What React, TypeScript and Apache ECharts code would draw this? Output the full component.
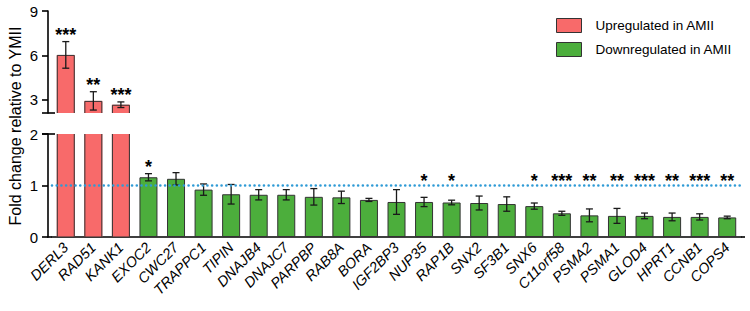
import React, { useEffect, useRef } from "react";
import * as echarts from "echarts";

const genes = [
  "DERL3", "RAD51", "KANK1", "EXOC2", "CWC27", "TRAPPC1", "TIPIN", "DNAJB4", "DNAJC7",
  "PARPBP", "RAB8A", "BORA", "IGF2BP3", "NUP35", "RAP1B", "SNX2", "SF3B1", "SNX6",
  "C11orf58", "PSMA2", "PSMA1", "GLOD4", "HPRT1", "CCNB1", "COPS4",
];
const upMeans = [6.03, 2.92, 2.66];
const upErrors = [0.9, 0.62, 0.19];
const downMeans = [
  1.16, 1.13, 0.92, 0.83, 0.82, 0.82, 0.78, 0.77, 0.72, 0.68, 0.68, 0.67,
  0.66, 0.64, 0.6, 0.46, 0.42, 0.41, 0.41, 0.39, 0.39, 0.38,
];
const downErrors = [
  0.07, 0.12, 0.11, 0.19, 0.1, 0.1, 0.16, 0.12, 0.03, 0.24, 0.09, 0.045,
  0.135, 0.14, 0.06, 0.04, 0.125, 0.145, 0.055, 0.075, 0.06, 0.025,
];
const significance = [
  "***", "**", "***", "*", "", "", "", "", "", "", "", "", "", "*", "*", "", "", "*",
  "***", "**", "**", "***", "**", "***", "**",
];
const upperTicks = [3, 6, 9];
const lowerTicks = [0, 1, 2];
const upperMin = 2.1;
const upperMax = 9;
const lowerMax = 2;
const referenceLevel = 1;

const FONT = "'Liberation Sans', Arial, Helvetica, sans-serif";
const RED = "#F86A6A";
const GREEN = "#4CAE3C";
const EDGE = "#333";
const UP_NAME = "Upregulated in AMII";
const DOWN_NAME = "Downregulated in AMII";
const BAR_W = 18;

export default function App() {
  const ref = useRef<HTMLDivElement>(null);
  useEffect(() => {
    if (!ref.current) return;
    const chart = echarts.init(ref.current, null, { renderer: "svg" });
    const nUp = upMeans.length;
    const upBars = genes.map((_, i) => (i < nUp ? upMeans[i] : "-"));
    const downBars = genes.map((_, i) => (i >= nUp ? downMeans[i - nUp] : "-"));
    const upErr = upMeans.map((m, i) => [i, m, upErrors[i]]);
    const downErr = downMeans.map((m, i) => [i + nUp, m, downErrors[i]]);
    const upStars = upMeans.map((m, i) => [i, m + upErrors[i], significance[i]]);
    const downStars = downMeans
      .map((m, i) => [i + nUp, Math.max(m + downErrors[i], 0.95), significance[i + nUp]])
      .filter((d) => d[2] !== "");
    const upEdgeData = upMeans.map((m, i) => [i, m]);

    const errRender = (params: any, api: any) => {
      const i = api.value(0);
      const m = api.value(1);
      const e = api.value(2);
      const t = api.coord([i, m + e]);
      const b = api.coord([i, m - e]);
      const hw = 3.5;
      const st = { stroke: "#1a1a1a", lineWidth: 1.3 };
      return {
        type: "group",
        children: [
          { type: "line", shape: { x1: t[0], y1: t[1], x2: b[0], y2: b[1] }, style: st },
          { type: "line", shape: { x1: t[0] - hw, y1: t[1], x2: t[0] + hw, y2: t[1] }, style: st },
          { type: "line", shape: { x1: b[0] - hw, y1: b[1], x2: b[0] + hw, y2: b[1] }, style: st },
        ],
      };
    };
    const upperEdgeRender = (params: any, api: any) => {
      const i = api.value(0);
      const m = api.value(1);
      const t = api.coord([i, m]);
      const b = api.coord([i, upperMin]);
      const l = t[0] - BAR_W / 2 + 0.5;
      const r = t[0] + BAR_W / 2 - 0.5;
      return {
        type: "polyline",
        shape: { points: [[l, b[1]], [l, t[1] + 0.5], [r, t[1] + 0.5], [r, b[1]]] },
        style: { stroke: EDGE, lineWidth: 1, fill: "none" },
      };
    };
    const lowerEdgeRender = (params: any, api: any) => {
      const i = api.value(0);
      const t = api.coord([i, lowerMax]);
      const b = api.coord([i, 0]);
      const l = t[0] - BAR_W / 2 + 0.5;
      const r = t[0] + BAR_W / 2 - 0.5;
      return {
        type: "polyline",
        shape: { points: [[l, t[1]], [l, b[1]], [r, b[1]], [r, t[1]]] },
        style: { stroke: EDGE, lineWidth: 1, fill: "none" },
      };
    };
    const starRender = (params: any, api: any) => {
      const i = api.value(0);
      const y = api.value(1);
      const idx = params.dataIndex;
      const p = api.coord([i, y]);
      const text = params.seriesName === "upStars" ? upStars[idx][2] : downStars[idx][2];
      return {
        type: "text",
        x: p[0],
        y: p[1] - 7,
        style: {
          text,
          fill: "#000",
          fontSize: 18,
          fontWeight: "bold",
          fontFamily: FONT,
          align: "center",
          verticalAlign: "middle",
        },
      };
    };

    const axisLineStyle = { color: "#000", width: 1.6 };
    const gridLeft = 52;
    const gridRight = 9;

    chart.setOption({
      animation: false,
      textStyle: { fontFamily: FONT },
      legend: {
        data: [
          { name: UP_NAME, itemStyle: { color: RED, borderColor: EDGE, borderWidth: 1 } },
          { name: DOWN_NAME, itemStyle: { color: GREEN, borderColor: EDGE, borderWidth: 1 } },
        ],
        orient: "vertical",
        left: 556,
        top: 18,
        padding: 0,
        itemWidth: 25,
        itemHeight: 14,
        itemGap: 9,
        icon: "rect",
        textStyle: { fontSize: 13.5, color: "#000", fontFamily: FONT, padding: [0, 0, 0, 9] },
      },
      grid: [
        { left: gridLeft, right: gridRight, top: 11, height: 102 },
        { left: gridLeft, right: gridRight, top: 134, height: 103 },
      ],
      xAxis: [
        { type: "category", gridIndex: 0, data: genes, show: false },
        {
          type: "category",
          gridIndex: 1,
          data: genes,
          axisLine: { lineStyle: axisLineStyle },
          axisTick: { alignWithLabel: true, length: 6, lineStyle: { color: "#000", width: 1.6 } },
          axisLabel: {
            rotate: 45,
            interval: 0,
            margin: 8,
            fontSize: 14.5,
            fontStyle: "italic",
            color: "#000",
            fontFamily: FONT,
          },
        },
      ],
      yAxis: [
        {
          type: "value",
          gridIndex: 0,
          min: upperMin,
          max: upperMax,
          offset: 4,
          splitLine: { show: false },
          axisLine: { show: true, lineStyle: axisLineStyle },
          axisTick: { show: true, length: 6, customValues: upperTicks, lineStyle: { color: "#000", width: 1.6 } },
          axisLabel: { customValues: upperTicks, fontSize: 15, color: "#000", margin: 10, fontFamily: FONT },
        },
        {
          type: "value",
          gridIndex: 1,
          min: 0,
          max: lowerMax,
          interval: 1,
          offset: 4,
          splitLine: { show: false },
          axisLine: { show: true, lineStyle: axisLineStyle },
          axisTick: { show: true, length: 6, customValues: lowerTicks, lineStyle: { color: "#000", width: 1.6 } },
          axisLabel: { customValues: lowerTicks, fontSize: 15, color: "#000", margin: 10, fontFamily: FONT },
        },
      ],
      series: [
        {
          name: "refLine",
          type: "line",
          xAxisIndex: 1,
          yAxisIndex: 1,
          data: [],
          z: 1,
          silent: true,
          markLine: {
            silent: true,
            symbol: "none",
            label: { show: false },
            lineStyle: { color: "#2F9BD6", width: 2.6, type: [0.01, 4.7], cap: "round" },
            data: [{ yAxis: referenceLevel }],
          },
        },
        {
          name: UP_NAME,
          type: "bar",
          xAxisIndex: 0,
          yAxisIndex: 0,
          data: upBars,
          barWidth: BAR_W,
          barGap: "-100%",
          z: 2,
          itemStyle: { color: RED, borderWidth: 0 },
        },
        {
          name: UP_NAME,
          type: "bar",
          xAxisIndex: 1,
          yAxisIndex: 1,
          data: upBars,
          barWidth: BAR_W,
          barGap: "-100%",
          z: 2,
          clip: true,
          itemStyle: { color: RED, borderWidth: 0 },
        },
        {
          name: DOWN_NAME,
          type: "bar",
          xAxisIndex: 1,
          yAxisIndex: 1,
          data: downBars,
          barWidth: BAR_W,
          barGap: "-100%",
          z: 2,
          itemStyle: { color: GREEN, borderColor: EDGE, borderWidth: 1 },
        },
        {
          name: "upEdgesUpper",
          type: "custom",
          xAxisIndex: 0,
          yAxisIndex: 0,
          data: upEdgeData,
          z: 3,
          silent: true,
          renderItem: upperEdgeRender,
        },
        {
          name: "upEdgesLower",
          type: "custom",
          xAxisIndex: 1,
          yAxisIndex: 1,
          data: upEdgeData,
          z: 3,
          silent: true,
          clip: false,
          renderItem: lowerEdgeRender,
        },
        {
          name: "upErr",
          type: "custom",
          xAxisIndex: 0,
          yAxisIndex: 0,
          data: upErr,
          z: 4,
          silent: true,
          renderItem: errRender,
        },
        {
          name: "downErr",
          type: "custom",
          xAxisIndex: 1,
          yAxisIndex: 1,
          data: downErr,
          z: 4,
          silent: true,
          renderItem: errRender,
        },
        {
          name: "upStars",
          type: "custom",
          xAxisIndex: 0,
          yAxisIndex: 0,
          data: upStars,
          z: 4,
          silent: true,
          clip: false,
          renderItem: starRender,
        },
        {
          name: "downStars",
          type: "custom",
          xAxisIndex: 1,
          yAxisIndex: 1,
          data: downStars,
          z: 4,
          silent: true,
          clip: false,
          renderItem: starRender,
        },
      ],
      graphic: [
        {
          type: "text",
          x: 15,
          y: 126,
          rotation: Math.PI / 2,
          style: {
            text: "Fold change relative to YMII",
            fontSize: 16,
            fontFamily: FONT,
            fill: "#000",
            align: "center",
            verticalAlign: "middle",
          },
        },
        { type: "line", shape: { x1: 42, y1: 113, x2: 55, y2: 113 }, style: { stroke: "#000", lineWidth: 1.6 } },
        { type: "line", shape: { x1: 42, y1: 134, x2: 55, y2: 134 }, style: { stroke: "#000", lineWidth: 1.6 } },
        { type: "line", shape: { x1: 47.2, y1: 237, x2: 52, y2: 237 }, style: { stroke: "#000", lineWidth: 1.6 } },
        { type: "line", shape: { x1: 741, y1: 237, x2: 745, y2: 237 }, style: { stroke: "#000", lineWidth: 1.6 } },
      ],
    });
    return () => chart.dispose();
  }, []);
  return (
    <div
      ref={ref}
      style={{ position: "fixed", left: 0, top: 0, width: 750, height: 311, background: "#fff" }}
    />
  );
}
